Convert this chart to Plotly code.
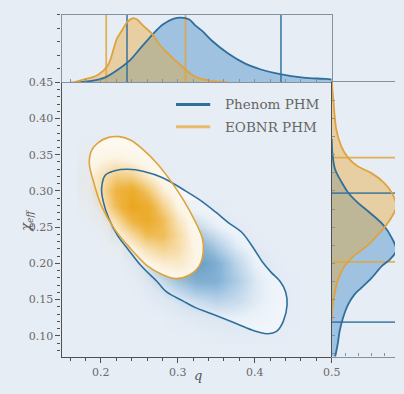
import plotly.graph_objects as go

# ---------------- data ----------------
# 1D marginal of the mass ratio q (top panel), arbitrary density units
q_phenom = [0.166, 0.171, 0.188, 0.205, 0.221, 0.238, 0.251, 0.268, 0.281, 0.294, 0.304,
            0.315, 0.323, 0.332, 0.344, 0.365, 0.387, 0.408, 0.433, 0.463, 0.492, 0.500]
dens_q_phenom = [0.0, 0.0, 0.02, 0.07, 0.18, 0.33, 0.50, 0.72, 0.86, 0.94, 0.96,
                 0.93, 0.84, 0.76, 0.62, 0.43, 0.28, 0.19, 0.12, 0.07, 0.05, 0.04]
q_eob = [0.160, 0.164, 0.174, 0.196, 0.209, 0.217, 0.221, 0.228, 0.234, 0.242, 0.247,
         0.255, 0.268, 0.276, 0.285, 0.306, 0.323, 0.344, 0.365]
dens_q_eob = [0.0, 0.0, 0.03, 0.11, 0.25, 0.51, 0.65, 0.78, 0.89, 0.95, 0.93,
              0.84, 0.70, 0.56, 0.45, 0.23, 0.08, 0.02, 0.0]

# 1D marginal of chi_eff (right panel)
chi_phenom = [0.372, 0.352, 0.330, 0.312, 0.298, 0.284, 0.271, 0.252, 0.234, 0.218,
              0.206, 0.197, 0.179, 0.166, 0.157, 0.143, 0.125, 0.107, 0.089, 0.075, 0.071]
dens_chi_phenom = [0.0, 0.01, 0.05, 0.15, 0.245, 0.39, 0.56, 0.785, 0.91, 0.97,
                   0.88, 0.76, 0.59, 0.44, 0.34, 0.245, 0.17, 0.12, 0.09, 0.06, 0.05]
chi_eob = [0.450, 0.440, 0.425, 0.384, 0.361, 0.346, 0.334, 0.325, 0.312, 0.298,
           0.279, 0.261, 0.243, 0.225, 0.211, 0.197, 0.179, 0.161, 0.139, 0.120]
dens_chi_eob = [0.005, 0.01, 0.025, 0.07, 0.147, 0.245, 0.39, 0.59, 0.78, 0.90,
                0.97, 0.88, 0.73, 0.54, 0.34, 0.20, 0.10, 0.05, 0.01, 0.0]

# 90% credible bounds shown in the marginals
q_ci_phenom = [0.234, 0.434]
q_ci_eob = [0.207, 0.310]
chi_ci_phenom = [0.119, 0.297]
chi_ci_eob = [0.202, 0.346]

# 90% contour of the joint (q, chi_eff) posterior
phenom_contour_q = [0.201, 0.206, 0.218, 0.235, 0.256, 0.281, 0.307, 0.328, 0.349, 0.366,
                    0.383, 0.399, 0.410, 0.421, 0.433, 0.440, 0.442, 0.437, 0.429, 0.416,
                    0.399, 0.378, 0.357, 0.340, 0.323, 0.307, 0.285, 0.273, 0.252, 0.235,
                    0.222, 0.210, 0.203]
phenom_contour_chi = [0.304, 0.322, 0.328, 0.330, 0.327, 0.318, 0.302, 0.288, 0.271, 0.256,
                      0.243, 0.220, 0.202, 0.188, 0.175, 0.161, 0.143, 0.120, 0.107, 0.103,
                      0.107, 0.116, 0.125, 0.132, 0.139, 0.148, 0.161, 0.175, 0.197, 0.220,
                      0.238, 0.263, 0.286]
eob_contour_q = [0.185, 0.188, 0.197, 0.210, 0.224, 0.239, 0.256, 0.273, 0.290, 0.307, 0.323,
                 0.332, 0.333, 0.328, 0.315, 0.298, 0.281, 0.260, 0.239, 0.218, 0.201, 0.191]
eob_contour_chi = [0.338, 0.356, 0.367, 0.374, 0.375, 0.370, 0.356, 0.338, 0.315, 0.288, 0.257,
                   0.234, 0.216, 0.197, 0.184, 0.179, 0.184, 0.197, 0.220, 0.247, 0.279, 0.311]

# Relative joint density on coarse grids (rows: chi_eff, columns: q)
phenom_grid_q = [0.225, 0.25, 0.275, 0.30, 0.325, 0.35, 0.375, 0.40, 0.425, 0.45]
phenom_grid_chi = [0.10, 0.125, 0.15, 0.175, 0.20, 0.225, 0.25, 0.275]
phenom_density = [
    [0.00, 0.00, 0.00, 0.01, 0.01, 0.03, 0.04, 0.03, 0.02, 0.01],
    [0.00, 0.00, 0.01, 0.04, 0.09, 0.14, 0.15, 0.11, 0.06, 0.02],
    [0.00, 0.01, 0.08, 0.20, 0.34, 0.42, 0.35, 0.21, 0.08, 0.02],
    [0.00, 0.04, 0.27, 0.54, 0.76, 0.74, 0.49, 0.23, 0.07, 0.02],
    [0.00, 0.12, 0.55, 0.89, 0.99, 0.76, 0.41, 0.15, 0.04, 0.01],
    [0.00, 0.36, 0.67, 0.86, 0.76, 0.46, 0.20, 0.06, 0.01, 0.00],
    [0.15, 0.32, 0.48, 0.48, 0.34, 0.17, 0.06, 0.01, 0.00, 0.00],
    [0.10, 0.17, 0.20, 0.16, 0.09, 0.04, 0.01, 0.00, 0.00, 0.00],
]
eob_grid_q = [0.18, 0.20, 0.22, 0.24, 0.26, 0.28, 0.30, 0.32, 0.34]
eob_grid_chi = [0.18, 0.20, 0.22, 0.24, 0.26, 0.28, 0.30, 0.32, 0.34, 0.36, 0.38]
eob_density = [
    [0.00, 0.00, 0.00, 0.01, 0.03, 0.07, 0.11, 0.10, 0.05],
    [0.00, 0.00, 0.01, 0.04, 0.12, 0.21, 0.24, 0.16, 0.06],
    [0.00, 0.01, 0.04, 0.14, 0.33, 0.44, 0.36, 0.17, 0.05],
    [0.00, 0.03, 0.14, 0.39, 0.65, 0.64, 0.38, 0.13, 0.03],
    [0.02, 0.11, 0.37, 0.74, 0.89, 0.64, 0.28, 0.07, 0.01],
    [0.05, 0.24, 0.65, 0.98, 0.86, 0.45, 0.14, 0.03, 0.00],
    [0.09, 0.34, 0.73, 0.87, 0.58, 0.22, 0.05, 0.01, 0.00],
    [0.10, 0.31, 0.51, 0.48, 0.26, 0.08, 0.01, 0.00, 0.00],
    [0.07, 0.17, 0.23, 0.17, 0.07, 0.02, 0.00, 0.00, 0.00],
    [0.03, 0.06, 0.06, 0.04, 0.01, 0.00, 0.00, 0.00, 0.00],
    [0.01, 0.01, 0.01, 0.00, 0.00, 0.00, 0.00, 0.00, 0.00],
]

labels = ["Phenom PHM", "EOBNR PHM"]
q_range = [0.149, 0.5]
chi_range = [0.0714, 0.45]

# ---------------- style ----------------
W, H = 404, 394
BG = "#e7edf5"
BLUE = "#2f6f9c"
ORANGE = "#dfa33e"
BLUE_FILL = "rgba(60,135,195,0.42)"
ORANGE_FILL = "rgba(232,168,50,0.42)"
AXIS = "#505050"
FRAME = "#8590a0"
FONT = "DejaVu Serif"
TICKFONT = dict(family=FONT, size=11, color="#6a6a6a")


def px_x(p):
    return p / W


def px_y(p):
    return 1 - p / H


def closed(v):
    return list(v) + [v[0]]


main_x = [px_x(63), px_x(339.3)]
main_y = [px_y(356), px_y(77.5)]
top_y = [px_y(77.5), px_y(9)]
right_x = [px_x(339.3), 1.0]

blue_scale = [[0, "rgba(70,140,195,0)"], [0.15, "rgba(70,140,195,0.07)"],
              [0.4, "rgba(70,140,195,0.33)"], [0.7, "rgba(70,140,195,0.63)"],
              [1, "rgba(70,140,195,0.85)"]]
orange_scale = [[0, "rgba(233,160,15,0)"], [0.15, "rgba(233,160,15,0.06)"],
                [0.4, "rgba(233,160,15,0.38)"], [0.7, "rgba(233,160,15,0.76)"],
                [1, "rgba(233,160,15,0.96)"]]

fig = go.Figure()
spline = dict(shape="spline", smoothing=1.0)

# Joint panel, drawn in stacked overlay layers
fig.add_trace(go.Scatter(x=closed(phenom_contour_q), y=closed(phenom_contour_chi),
                         mode="lines", fill="toself", fillcolor="#f5f8fc",
                         line=dict(width=0, **spline), hoverinfo="skip",
                         showlegend=False, xaxis="x", yaxis="y"))
fig.add_trace(go.Heatmap(x=phenom_grid_q, y=phenom_grid_chi, z=phenom_density,
                         zsmooth="best", colorscale=blue_scale, zmin=0, zmax=1,
                         showscale=False, hoverinfo="skip", xaxis="x4", yaxis="y4"))
fig.add_trace(go.Scatter(x=closed(eob_contour_q), y=closed(eob_contour_chi),
                         mode="lines", fill="toself", fillcolor="#fdfaf3",
                         line=dict(width=0, **spline), hoverinfo="skip",
                         showlegend=False, xaxis="x5", yaxis="y5"))
fig.add_trace(go.Heatmap(x=eob_grid_q, y=eob_grid_chi, z=eob_density,
                         zsmooth="best", colorscale=orange_scale, zmin=0, zmax=1,
                         showscale=False, hoverinfo="skip", xaxis="x6", yaxis="y6"))
fig.add_trace(go.Scatter(x=closed(phenom_contour_q), y=closed(phenom_contour_chi),
                         mode="lines", line=dict(color=BLUE, width=1.6, **spline),
                         hoverinfo="skip", showlegend=False, xaxis="x6", yaxis="y6"))
fig.add_trace(go.Scatter(x=closed(eob_contour_q), y=closed(eob_contour_chi),
                         mode="lines", line=dict(color=ORANGE, width=1.6, **spline),
                         hoverinfo="skip", showlegend=False, xaxis="x6", yaxis="y6"))

# Top marginal: q
fig.add_trace(go.Scatter(x=q_phenom, y=dens_q_phenom, mode="lines", fill="tozeroy",
                         fillcolor=BLUE_FILL, line=dict(width=0, **spline),
                         hoverinfo="skip", showlegend=False, xaxis="x2", yaxis="y2"))
fig.add_trace(go.Scatter(x=q_eob, y=dens_q_eob, mode="lines", fill="tozeroy",
                         fillcolor=ORANGE_FILL, line=dict(width=0, **spline),
                         hoverinfo="skip", showlegend=False, xaxis="x2", yaxis="y2"))
for qs, col in ((q_ci_eob, "rgba(226,165,60,0.85)"), (q_ci_phenom, "rgba(47,111,156,0.8)")):
    for v in qs:
        fig.add_trace(go.Scatter(x=[v, v], y=[0, 1], mode="lines",
                                 line=dict(color=col, width=1.8), hoverinfo="skip",
                                 showlegend=False, xaxis="x2", yaxis="y2"))
fig.add_trace(go.Scatter(x=q_phenom, y=dens_q_phenom, mode="lines",
                         line=dict(color=BLUE, width=1.8, **spline), hoverinfo="skip",
                         showlegend=False, xaxis="x2", yaxis="y2"))
fig.add_trace(go.Scatter(x=q_eob, y=dens_q_eob, mode="lines",
                         line=dict(color=ORANGE, width=1.8, **spline), hoverinfo="skip",
                         showlegend=False, xaxis="x2", yaxis="y2"))

# Right marginal: chi_eff
fig.add_trace(go.Scatter(x=dens_chi_phenom, y=chi_phenom, mode="lines", fill="tozerox",
                         fillcolor=BLUE_FILL, line=dict(width=0, **spline),
                         hoverinfo="skip", showlegend=False, xaxis="x3", yaxis="y3"))
fig.add_trace(go.Scatter(x=dens_chi_eob, y=chi_eob, mode="lines", fill="tozerox",
                         fillcolor=ORANGE_FILL, line=dict(width=0, **spline),
                         hoverinfo="skip", showlegend=False, xaxis="x3", yaxis="y3"))
for cs, col in ((chi_ci_eob, "rgba(226,165,60,0.85)"), (chi_ci_phenom, "rgba(47,111,156,0.8)")):
    for v in cs:
        fig.add_trace(go.Scatter(x=[0, 1.2], y=[v, v], mode="lines",
                                 line=dict(color=col, width=1.8), hoverinfo="skip",
                                 showlegend=False, xaxis="x3", yaxis="y3"))
fig.add_trace(go.Scatter(x=dens_chi_phenom, y=chi_phenom, mode="lines",
                         line=dict(color=BLUE, width=1.8, **spline), hoverinfo="skip",
                         showlegend=False, xaxis="x3", yaxis="y3"))
fig.add_trace(go.Scatter(x=dens_chi_eob, y=chi_eob, mode="lines",
                         line=dict(color=ORANGE, width=1.8, **spline), hoverinfo="skip",
                         showlegend=False, xaxis="x3", yaxis="y3"))

hidden = dict(visible=False, showgrid=False, zeroline=False)
minor_x = dict(dtick=0.02, ticklen=3, ticks="outside", tickcolor=AXIS)
minor_y = dict(dtick=0.01, ticklen=3, ticks="outside", tickcolor=AXIS)

fig.update_layout(
    width=W, height=H,
    margin=dict(l=0, r=0, t=0, b=0),
    paper_bgcolor=BG, plot_bgcolor=BG,
    showlegend=False,
    xaxis=dict(domain=main_x, range=q_range, anchor="y", tick0=0, dtick=0.1,
               tickformat=".1f", ticks="outside", ticklen=5, tickcolor=AXIS,
               minor=minor_x, showline=True, linecolor=AXIS, linewidth=1.3,
               showgrid=False, zeroline=False, tickfont=TICKFONT),
    yaxis=dict(domain=main_y, range=chi_range, anchor="x", tick0=0, dtick=0.05,
               tickformat=".2f", ticks="outside", ticklen=5, tickcolor=AXIS,
               minor=minor_y, showline=True, linecolor=AXIS, linewidth=1.3,
               showgrid=False, zeroline=False, tickfont=TICKFONT),
    xaxis4=dict(overlaying="x", range=q_range, anchor="y4", **hidden),
    yaxis4=dict(overlaying="y", range=chi_range, anchor="x4", **hidden),
    xaxis5=dict(overlaying="x", range=q_range, anchor="y5", **hidden),
    yaxis5=dict(overlaying="y", range=chi_range, anchor="x5", **hidden),
    xaxis6=dict(overlaying="x", range=q_range, anchor="y6", **hidden),
    yaxis6=dict(overlaying="y", range=chi_range, anchor="x6", **hidden),
    xaxis2=dict(domain=main_x, range=q_range, anchor="y2", showticklabels=False,
                tick0=0, dtick=0.02, ticks="inside", ticklen=3, tickcolor=FRAME,
                showline=True, mirror=True, linecolor=FRAME, linewidth=1.3,
                showgrid=False, zeroline=False),
    yaxis2=dict(domain=top_y, range=[0, 1.0], anchor="x2", showticklabels=False,
                tick0=0, dtick=0.2, ticks="outside", ticklen=3, tickcolor=AXIS,
                showline=True, mirror=True, linecolor=FRAME, linewidth=1.3,
                showgrid=False, zeroline=False),
    xaxis3=dict(domain=right_x, range=[0, 0.951], anchor="y3", showticklabels=False,
                tick0=0, dtick=0.2, ticks="inside", ticklen=3, tickcolor=FRAME,
                showline=True, mirror=True, linecolor=FRAME, linewidth=1.3,
                showgrid=False, zeroline=False),
    yaxis3=dict(domain=main_y, range=chi_range, anchor="x3", showticklabels=False,
                tick0=0, dtick=0.025, ticks="inside", ticklen=3, tickcolor=FRAME,
                showline=True, linecolor=AXIS, linewidth=1.3,
                showgrid=False, zeroline=False),
)

# Axis titles
fig.add_annotation(text="q", x=px_x(202), y=px_y(385), xref="paper", yref="paper",
                   showarrow=False,
                   font=dict(family=FONT, size=13, color="#555555", style="italic"))
fig.add_annotation(text="χ<sub>eff</sub>", x=px_x(17), y=px_y(218),
                   xref="paper", yref="paper", showarrow=False, textangle=-90,
                   font=dict(family=FONT, size=13, color="#555555", style="italic"))

# Legend
for i, (lab, col) in enumerate(zip(labels, (BLUE, "#e8bc6c"))):
    yy = px_y(100 + 22.5 * i)
    fig.add_shape(type="line", xref="paper", yref="paper", x0=px_x(180), x1=px_x(215),
                  y0=yy, y1=yy, line=dict(color=col, width=3))
    fig.add_annotation(text=lab, x=px_x(228), y=yy, xref="paper", yref="paper",
                       xanchor="left", yanchor="middle", showarrow=False,
                       font=dict(family=FONT, size=13.5, color="#666666"))

fig.write_html("out.html")
